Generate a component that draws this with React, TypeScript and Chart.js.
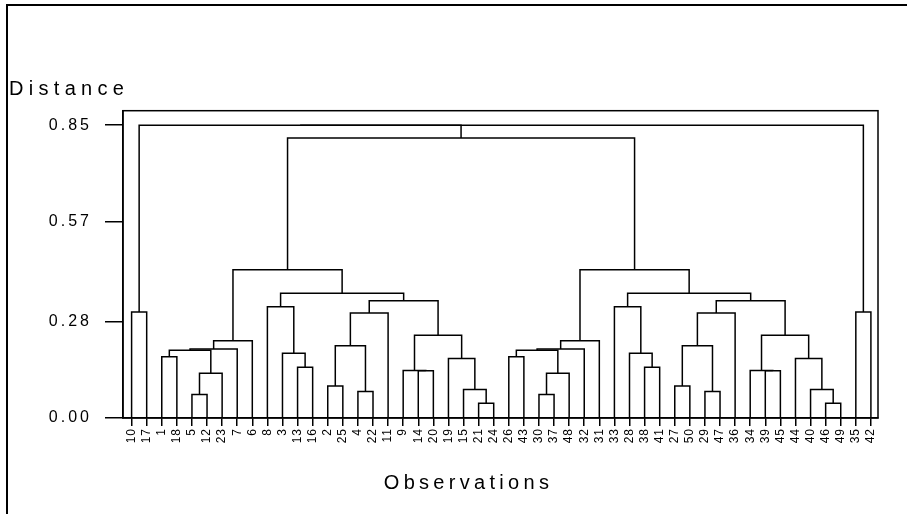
import React, { useEffect, useRef } from "react";
import { Chart, registerables } from "chart.js";
Chart.register(...registerables);

// Leaf order along the x axis (observation numbers)
const leafLabels = [
  "10", "17", "1", "18", "5", "12", "23", "7", "6", "8", "3", "13", "16", "2", "25", "4", "22", "11",
  "9", "14", "20", "19", "15", "21", "24", "26", "43", "30", "37", "48", "32", "31", "33", "28", "38",
  "41", "27", "50", "29", "47", "36", "34", "39", "45", "44", "40", "46", "49", "35", "42",
];

// Merge steps: a leaf is referenced by its observation number, a previous merge by "#k"
const mergeA = [
  "1", "5", "#1", "#0", "#3", "#4", "13", "3", "8", "2", "4", "#9", "#11", "14", "9", "21", "15", "19", "#14", "#12", "#8", "#5",
  "26", "30", "#23", "#22", "#25", "#26", "38", "28", "33", "27", "29", "#31", "#33", "39", "34", "46", "40", "44", "#36", "#34", "#30", "#27",
  "10", "35", "#21", "#44", "#47",
];
const mergeB = [
  "18", "12", "23", "#2", "7", "6", "16", "#6", "#7", "25", "22", "#10", "11", "20", "#13", "24", "#15", "#16", "#17", "#18", "#19", "#20",
  "43", "37", "48", "#24", "32", "31", "41", "#28", "#29", "50", "47", "#32", "36", "45", "#35", "49", "#37", "#38", "#39", "#40", "#41", "#42",
  "17", "42", "#43", "#46", "#45",
];
const mergeHeight = [
  0.178, 0.068, 0.130, 0.197, 0.200, 0.224, 0.147, 0.188, 0.323, 0.093, 0.077, 0.210, 0.305, 0.137, 0.138, 0.043, 0.083, 0.173, 0.240, 0.340, 0.362, 0.430,
  0.178, 0.068, 0.130, 0.197, 0.200, 0.224, 0.147, 0.188, 0.323, 0.093, 0.077, 0.210, 0.305, 0.137, 0.138, 0.043, 0.083, 0.173, 0.240, 0.340, 0.362, 0.430,
  0.308, 0.308, 0.813, 0.850, 0.850,
];

const yTickValues = [0, 0.28, 0.57, 0.85];
const yMax = 0.892;

const FONT = '"Liberation Sans", Arial, Helvetica, sans-serif';

function buildDatasets() {
  const nodes: Record<string, { x: number; y: number }> = {};
  leafLabels.forEach((l, i) => (nodes[l] = { x: i, y: 0 }));
  const datasets: any[] = [];
  mergeHeight.forEach((h, k) => {
    const a = nodes[mergeA[k]];
    const b = nodes[mergeB[k]];
    nodes["#" + k] = { x: (a.x + b.x) / 2, y: h };
    datasets.push({
      data: [
        { x: a.x, y: a.y },
        { x: a.x, y: h },
        { x: b.x, y: h },
        { x: b.x, y: b.y },
      ],
      showLine: true,
      pointRadius: 0,
      borderColor: "#000",
      borderWidth: 1.5,
      fill: false,
      tension: 0,
    });
  });
  return datasets;
}

const decor = {
  id: "decor",
  afterUpdate(chart: any) {
    const spacing: Record<string, string> = { x: "1px", y: "3px" };
    for (const id of ["x", "y"]) {
      const s = chart.scales[id];
      if (!s || s.__patched) continue;
      const orig = s.drawLabels.bind(s);
      s.drawLabels = (area: any) => {
        const c = s.ctx;
        const prev = c.letterSpacing;
        c.letterSpacing = spacing[id];
        orig(area);
        c.letterSpacing = prev;
      };
      s.__patched = true;
    }
  },
  afterDraw(chart: any) {
    const { ctx, chartArea: a } = chart;
    ctx.save();
    ctx.strokeStyle = "#000";
    ctx.lineWidth = 1.5;
    ctx.strokeRect(a.left, a.top, a.right - a.left, a.bottom - a.top);
    ctx.fillStyle = "#000";
    ctx.textBaseline = "alphabetic";
    ctx.font = "20px " + FONT;
    ctx.letterSpacing = "5.3px";
    ctx.textAlign = "left";
    ctx.fillText("Distance", 9, 95);
    ctx.font = "20px " + FONT;
    ctx.letterSpacing = "4.3px";
    ctx.textAlign = "center";
    ctx.fillText("Observations", 468.5, 489);
    ctx.restore();
  },
};

export default function App() {
  const ref = useRef<HTMLCanvasElement>(null);
  useEffect(() => {
    if (!ref.current) return;
    const chart = new Chart(ref.current, {
      type: "scatter",
      data: { datasets: buildDatasets() },
      options: {
        animation: false,
        responsive: false,
        devicePixelRatio: 1,
        layout: { padding: { top: 110.7, right: 29, left: 0, bottom: 0 } },
        plugins: { legend: { display: false }, tooltip: { enabled: false }, title: { display: false } },
        scales: {
          x: {
            type: "linear",
            min: -0.57,
            max: 49.47,
            afterBuildTicks: (s: any) => {
              s.ticks = leafLabels.map((_, i) => ({ value: i }));
            },
            afterFit: (s: any) => {
              s.height = 96;
            },
            ticks: {
              autoSkip: false,
              minRotation: 90,
              maxRotation: 90,
              padding: 2,
              color: "#000",
              font: { family: FONT, size: 12 },
              callback: (v: any) => leafLabels[Math.round(Number(v))] ?? "",
            },
            grid: { drawOnChartArea: false, drawTicks: true, tickLength: 8, color: "#000", lineWidth: 1.5 },
            border: { display: true, color: "#000", width: 1.5 },
          },
          y: {
            type: "linear",
            min: 0,
            max: yMax,
            afterBuildTicks: (s: any) => {
              s.ticks = yTickValues.map((v) => ({ value: v }));
            },
            afterFit: (s: any) => {
              s.width = 123;
            },
            ticks: {
              padding: 13,
              color: "#000",
              font: { family: FONT, size: 16 },
              callback: (v: any) => Number(v).toFixed(2),
            },
            grid: { drawOnChartArea: false, drawTicks: true, tickLength: 18, color: "#000", lineWidth: 1.5 },
            border: { display: true, color: "#000", width: 1.5 },
          },
        },
      },
      plugins: [decor],
    });
    return () => chart.destroy();
  }, []);
  return (
    <>
      <div
        style={{
          position: "fixed",
          left: 6,
          top: 4,
          width: 901,
          height: 510,
          borderTop: "2px solid #000",
          borderLeft: "2px solid #000",
          boxSizing: "border-box",
          pointerEvents: "none",
        }}
      />
      <canvas
        ref={ref}
        width={907}
        height={514}
        style={{ position: "fixed", left: 0, top: 0, width: 907, height: 514 }}
      />
    </>
  );
}
